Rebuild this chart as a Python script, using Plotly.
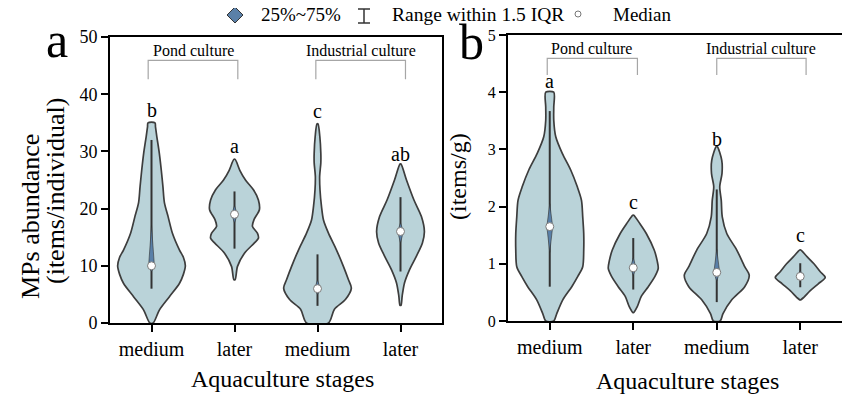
import plotly.graph_objects as go

# ---------------- data ----------------
categories = ["medium", "later", "medium", "later"]
groups = ["Pond culture", "Industrial culture"]

# Panel a: MPs abundance (items/individual) — violin outlines (value, half-width in category units)
a_vals = [
    [0, 2.3, 4.6, 6.9, 8.5, 10, 11.5, 12.8, 15.7, 18.6, 21, 23.8, 26.7, 29.7, 32.6, 34.3, 35],
    [7.6, 9.9, 12.2, 14, 14.8, 15.7, 16.9, 18.1, 19.8, 21.5, 23.3, 25, 26.7, 28.6],
    [0, 2.4, 4.1, 6.1, 7.6, 9.9, 12.8, 15.7, 18, 20.4, 23.3, 25.7, 28, 29.7, 32.6, 34.8],
    [3.1, 4.7, 7, 9.3, 11.7, 14, 16, 18.6, 21.5, 25, 27.8],
]
a_hw = [
    [0.020, 0.096, 0.216, 0.336, 0.384, 0.408, 0.384, 0.336, 0.252, 0.200, 0.156, 0.138, 0.118, 0.094, 0.064, 0.048, 0.042],
    [0.008, 0.036, 0.120, 0.240, 0.288, 0.276, 0.216, 0.236, 0.300, 0.288, 0.228, 0.132, 0.064, 0.008],
    [0.132, 0.204, 0.336, 0.408, 0.372, 0.312, 0.228, 0.132, 0.072, 0.048, 0.030, 0.026, 0.040, 0.040, 0.028, 0.006],
    [0.006, 0.020, 0.048, 0.108, 0.192, 0.264, 0.288, 0.252, 0.162, 0.072, 0.006],
]
a_whisk_lo = [6, 13, 3, 9]
a_whisk_hi = [32, 23, 12, 22]
a_q1 = [9, 17.5, 5, 14]
a_q3 = [17, 20.5, 7.5, 17.5]
a_median = [10, 19, 6, 16]
a_letters = ["b", "a", "c", "ab"]
a_letter_y = [37.2, 30.9, 37.1, 29.5]

# Panel b: MPs abundance (items/g)
b_vals = [
    [0, 0.13, 0.37, 0.6, 0.78, 0.95, 1.24, 1.53, 1.82, 2.11, 2.35, 2.64, 2.93, 3.22, 3.51, 3.74, 4.0],
    [0.15, 0.25, 0.43, 0.6, 0.78, 0.92, 1.05, 1.24, 1.53, 1.7, 1.85],
    [0, 0.13, 0.37, 0.6, 0.8, 0.95, 1.24, 1.53, 1.82, 2.11, 2.35, 2.58, 2.81, 3.05],
    [0.37, 0.41, 0.53, 0.65, 0.76, 0.86, 1.0, 1.12, 1.24],
]
b_hw = [
    [0.048, 0.084, 0.156, 0.264, 0.336, 0.395, 0.407, 0.407, 0.395, 0.380, 0.329, 0.251, 0.150, 0.072, 0.048, 0.048, 0.048],
    [0.006, 0.048, 0.096, 0.180, 0.260, 0.299, 0.287, 0.251, 0.156, 0.080, 0.006],
    [0.040, 0.075, 0.180, 0.335, 0.389, 0.335, 0.240, 0.120, 0.066, 0.054, 0.036, 0.063, 0.060, 0.006],
    [0.006, 0.040, 0.120, 0.216, 0.299, 0.240, 0.164, 0.084, 0.006],
]
b_whisk_lo = [0.6, 0.55, 0.33, 0.59]
b_whisk_hi = [3.67, 1.45, 2.3, 1.01]
b_q1 = [1.2, 0.8, 0.7, 0.7]
b_q3 = [2.05, 1.1, 1.25, 0.88]
b_median = [1.65, 0.93, 0.85, 0.78]
b_letters = ["a", "c", "b", "c"]
b_letter_y = [4.2, 2.08, 3.19, 1.51]

# ---------------- styles ----------------
FONT = "Liberation Serif"
VIOLIN_FILL = "#bad3d9"
VIOLIN_LINE = "#3d3d3d"
BOX_FILL = "#5a80a8"
BRACKET = "#a6a6a6"
W, H = 850, 394
OFF = 8  # page body margin compensation (px)


def px(x):
    return (x - OFF) / W


def py(y):
    return (H - (y - OFF)) / H


fig = go.Figure()


def add_panel(xa, ya, vals, hws, wlo, whi, q1, q3, med, diamond_w):
    for i in range(len(vals)):
        c = i
        v = vals[i]
        w = hws[i]
        xs = [c + d for d in w] + [c - d for d in reversed(w)] + [c + w[0]]
        ys = list(v) + list(reversed(v)) + [v[0]]
        fig.add_trace(go.Scatter(x=xs, y=ys, mode="lines", fill="toself",
                                 fillcolor=VIOLIN_FILL,
                                 line=dict(color=VIOLIN_LINE, width=1.7, shape="spline", smoothing=0.8),
                                 xaxis=xa, yaxis=ya, showlegend=False, hoverinfo="skip"))
        fig.add_trace(go.Scatter(x=[c, c], y=[wlo[i], whi[i]], mode="lines",
                                 line=dict(color="#333333", width=2),
                                 xaxis=xa, yaxis=ya, showlegend=False, hoverinfo="skip"))
        fig.add_trace(go.Scatter(x=[c, c + diamond_w, c, c - diamond_w, c],
                                 y=[q1[i], med[i], q3[i], med[i], q1[i]],
                                 mode="lines", fill="toself", fillcolor=BOX_FILL,
                                 line=dict(color="#333333", width=0.6),
                                 xaxis=xa, yaxis=ya, showlegend=False, hoverinfo="skip"))
        fig.add_trace(go.Scatter(x=[c], y=[med[i]], mode="markers",
                                 marker=dict(size=8, color="white", line=dict(color="#7a7a7a", width=1)),
                                 xaxis=xa, yaxis=ya, showlegend=False, hoverinfo="skip"))


add_panel("x", "y", a_vals, a_hw, a_whisk_lo, a_whisk_hi, a_q1, a_q3, a_median, 0.035)
add_panel("x2", "y2", b_vals, b_hw, b_whisk_lo, b_whisk_hi, b_q1, b_q3, b_median, 0.035)

axis_common = dict(showline=True, linewidth=2, linecolor="black", mirror=True,
                   ticks="outside", ticklen=7, tickwidth=2, tickcolor="black",
                   showgrid=False, zeroline=False, fixedrange=True, automargin=False)

fig.update_layout(
    width=W, height=H, autosize=False,
    margin=dict(l=0, r=0, t=0, b=0, pad=0, autoexpand=False),
    paper_bgcolor="white", plot_bgcolor="white",
    font=dict(family=FONT, color="black"),
    showlegend=False,
    xaxis=dict(domain=[px(110), px(442)], range=[-0.5, 3.5], tickvals=[0, 1, 2, 3],
               ticktext=categories, tickfont=dict(size=20, family=FONT), anchor="y", **axis_common),
    yaxis=dict(domain=[py(323), py(37)], range=[0, 50], dtick=10,
               tickfont=dict(size=18, family=FONT), anchor="x", **axis_common),
    xaxis2=dict(domain=[px(508), px(842)], range=[-0.5, 3.5], tickvals=[0, 1, 2, 3],
                ticktext=categories, tickfont=dict(size=20, family=FONT), anchor="y2", **axis_common),
    yaxis2=dict(domain=[py(321), py(35)], range=[0, 5], dtick=1,
                tickfont=dict(size=16, family=FONT), anchor="x2", **axis_common),
)

ann = []
shapes = []


def text(x, y, t, size, xref="paper", yref="paper", xanchor="center", yanchor="middle", angle=0):
    ann.append(dict(x=x, y=y, xref=xref, yref=yref, text=t, showarrow=False,
                    xanchor=xanchor, yanchor=yanchor, textangle=angle,
                    font=dict(size=size, family=FONT, color="black")))


# significance letters
for i, (t, yv) in enumerate(zip(a_letters, a_letter_y)):
    text(i, yv, t, 20, "x", "y")
for i, (t, yv) in enumerate(zip(b_letters, b_letter_y)):
    text(i, yv, t, 20, "x2", "y2")


def bracket(xr, yr, x0, x1, ytop, ybot, label, xlabel, ylabel):
    shapes.append(dict(type="path", xref=xr, yref=yr,
                       path=f"M {x0},{ybot} L {x0},{ytop} L {x1},{ytop} L {x1},{ybot}",
                       line=dict(color=BRACKET, width=1.2)))
    text(xlabel, ylabel, label, 16, xr, yr)


bracket("x", "y", -0.04, 1.04, 45.9, 42.6, groups[0], 0.5, 47.6)
bracket("x", "y", 1.98, 3.06, 45.9, 42.6, groups[1], 2.52, 47.6)
bracket("x2", "y2", -0.03, 1.05, 4.59, 4.30, groups[0], 0.5, 4.77)
bracket("x2", "y2", 2.0, 3.07, 4.59, 4.30, groups[1], 2.53, 4.77)

# axis titles
text(px(282), py(379), "Aquaculture stages", 24)
text(px(687), py(381), "Aquaculture stages", 24)
text(px(30), py(217), "MPs abundance", 26, angle=-90)
text(px(55), py(191), "(items/individual)", 26, angle=-90)
text(px(458), py(177), "(items/g)", 24, angle=-90)

# panel labels
text(px(57), py(40), "a", 50)
text(px(471), py(42), "b", 50)

# legend (drawn)
shapes.append(dict(type="path", xref="paper", yref="paper",
                   path=f"M {px(227)},{py(15)} L {px(235)},{py(7)} L {px(243)},{py(15)} L {px(235)},{py(23)} Z",
                   fillcolor=BOX_FILL, line=dict(color="#333333", width=1)))
text(px(259), py(14), "25%~75%", 19, xanchor="left")
for seg in [(364, 9, 364, 23), (358, 9, 370, 9), (358, 23, 370, 23)]:
    shapes.append(dict(type="line", xref="paper", yref="paper", x0=px(seg[0]), y0=py(seg[1]),
                       x1=px(seg[2]), y1=py(seg[3]), line=dict(color="#333333", width=1.5)))
text(px(390), py(14), "Range within 1.5 IQR", 19.5, xanchor="left")
shapes.append(dict(type="circle", xref="paper", yref="paper", x0=px(575), y0=py(11), x1=px(581), y1=py(17),
                   fillcolor="white", line=dict(color="#777777", width=1)))
text(px(611), py(14), "Median", 19, xanchor="left")

fig.update_layout(annotations=ann, shapes=shapes)

fig.write_html("out.html")
